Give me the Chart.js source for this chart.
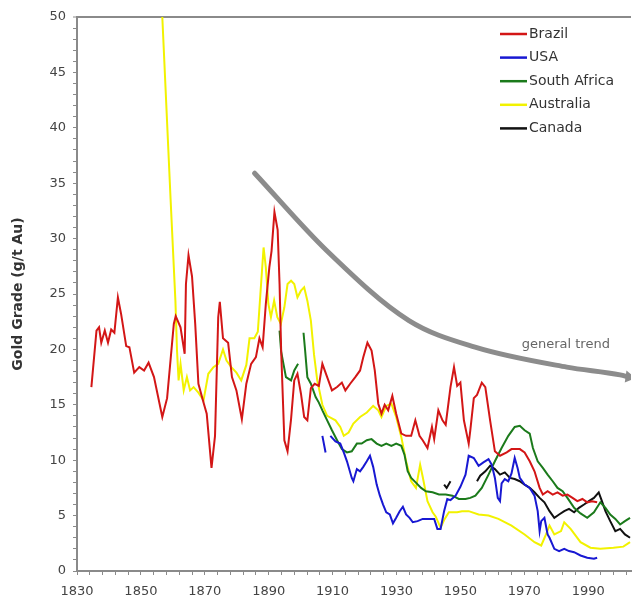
<!DOCTYPE html>
<html>
<head>
<meta charset="utf-8">
<title>Gold Grade</title>
<script src="https://cdn.jsdelivr.net/npm/chart.js@4.4.1/dist/chart.umd.min.js"></script>
<style>
  html, body { margin: 0; padding: 0; background: #fff; }
  canvas { display: block; }
</style>
</head>
<body>
<canvas id="chartGold" width="638" height="603"></canvas>
<script>
/* =============================
   DATA
============================= */

const brazilYear = [1834.5, 1836.1, 1836.9, 1837.6, 1838.7, 1839.7, 1840.7, 1841.7, 1842.8, 1843.8,
    1845.4, 1846.4, 1847.9, 1849.5, 1851.0, 1852.4, 1854.1, 1856.7, 1858.2, 1860.3,
    1860.9, 1862.4, 1863.7, 1864.1, 1864.9, 1866.0, 1867.0, 1868.0, 1869.6, 1870.6,
    1872.1, 1873.2, 1874.2, 1874.7, 1875.7, 1877.3, 1878.5, 1879.9, 1881.6, 1883.0,
    1884.5, 1886.0, 1887.1, 1888.1, 1889.1, 1890.2, 1890.9, 1891.8, 1892.8, 1893.4,
    1893.9, 1894.9, 1895.9, 1897.0, 1898.0, 1899.0, 1900.1, 1901.1, 1902.1, 1903.2,
    1904.4, 1905.7, 1906.8, 1908.3, 1909.8, 1911.4, 1912.9, 1914.0, 1915.5, 1917.1,
    1918.6, 1919.6, 1920.9, 1922.2, 1923.2, 1924.3, 1925.3, 1926.3, 1927.4, 1928.7,
    1929.9, 1931.5, 1933.0, 1934.6, 1935.9, 1937.2, 1938.2, 1939.7, 1941.1, 1941.8,
    1943.1, 1944.4, 1945.4, 1946.9, 1948.0, 1949.0, 1950.0, 1951.1, 1952.6, 1953.1,
    1954.2, 1955.2, 1956.7, 1957.8, 1959.3, 1960.8, 1962.4, 1964.5, 1966.0, 1968.6,
    1970.1, 1971.7, 1973.2, 1974.8, 1975.8, 1977.3, 1978.9, 1980.4, 1982.0, 1983.5,
    1985.1, 1986.6, 1988.2, 1989.7, 1991.2, 1992.8];
const brazilGrade = [16.6, 21.7, 22.0, 20.6, 21.7, 20.6, 21.8, 21.5, 24.7, 23.2,
    20.3, 20.2, 17.9, 18.4, 18.1, 18.8, 17.5, 13.9, 15.6, 22.3,
    23.0, 22.0, 19.6, 25.9, 28.5, 26.6, 22.3, 16.9, 15.2, 14.2,
    9.3, 12.2, 22.9, 24.3, 21.0, 20.6, 17.5, 16.3, 13.7, 16.9,
    18.7, 19.3, 21.0, 20.2, 24.1, 27.4, 28.9, 32.4, 30.8, 25.9,
    19.9, 11.8, 10.8, 13.7, 17.2, 17.8, 16.0, 13.9, 13.6, 16.5,
    16.9, 16.7, 18.7, 17.5, 16.3, 16.6, 17.0, 16.3, 16.9, 17.5,
    18.1, 19.3, 20.6, 19.9, 18.1, 15.1, 14.2, 15.0, 14.5, 15.8,
    14.2, 12.4, 12.2, 12.2, 13.6, 12.2, 11.8, 11.1, 13.0, 11.9,
    14.5, 13.6, 13.2, 16.6, 18.4, 16.7, 17.0, 13.6, 11.5, 12.7,
    15.6, 15.9, 17.0, 16.6, 13.6, 10.8, 10.4, 10.7, 11.0, 11.0,
    10.7, 9.9, 9.0, 7.5, 6.9, 7.2, 6.9, 7.1, 6.8, 6.9,
    6.6, 6.3, 6.5, 6.2, 6.3, 6.2];

const usaYear = [1906.8, 1907.8, 1908.5, 1909.3, 1910.9, 1912.4, 1913.5, 1914.5, 1916.0, 1916.5,
    1917.6, 1918.6, 1919.6, 1920.7, 1921.7, 1922.7, 1923.8, 1924.8, 1925.8, 1926.8,
    1927.9, 1928.9, 1929.9, 1931.0, 1932.0, 1933.0, 1934.1, 1935.1, 1936.6, 1938.2,
    1940.2, 1941.8, 1942.8, 1943.8, 1944.9, 1945.9, 1946.9, 1948.5, 1950.0, 1951.6,
    1952.6, 1954.2, 1955.7, 1957.2, 1958.8, 1959.8, 1960.8, 1961.7, 1962.4, 1962.9,
    1963.9, 1965.0, 1966.0, 1967.0, 1967.9, 1968.6, 1970.1, 1971.7, 1973.2, 1974.2,
    1974.8, 1975.3, 1976.3, 1977.3, 1977.9, 1979.4, 1980.9, 1982.5, 1984.0, 1985.6,
    1987.6, 1989.7, 1991.8, 1992.8];
const usaGrade = [12.2, 10.7, null, 12.2, 11.7, 11.5, 10.7, 9.9, 8.4, 8.1,
    9.2, 9.0, 9.4, 9.9, 10.4, 9.4, 7.8, 6.8, 6.0, 5.3,
    5.1, 4.3, 4.8, 5.4, 5.8, 5.1, 4.8, 4.4, 4.5, 4.7,
    4.7, 4.7, 3.8, 3.8, 5.4, 6.5, 6.4, 6.8, 7.6, 8.7,
    10.4, 10.2, 9.5, 9.8, 10.1, 9.6, 8.4, 6.6, 6.3, 7.9,
    8.3, 8.1, 8.8, 10.2, 9.3, 8.4, 7.8, 7.5, 6.8, 5.4,
    3.6, 4.5, 4.8, 3.3, 3.0, 2.0, 1.8, 2.0, 1.8, 1.7,
    1.4, 1.2, 1.1, 1.2];

const safricaYear = [1893.4, 1893.9, 1895.4, 1897.0, 1898.0, 1899.2, 1900.0, 1900.9, 1901.4, 1902.1,
    1903.2, 1904.7, 1905.7, 1906.8, 1908.3, 1909.8, 1911.4, 1912.9, 1914.5, 1916.0,
    1917.6, 1919.1, 1920.7, 1922.2, 1923.8, 1925.3, 1926.8, 1928.4, 1929.9, 1931.5,
    1932.5, 1933.5, 1934.6, 1936.0, 1937.7, 1939.2, 1941.3, 1943.3, 1945.4, 1947.5,
    1949.5, 1951.6, 1953.1, 1954.7, 1956.7, 1958.8, 1960.8, 1962.9, 1965.0, 1967.0,
    1968.6, 1970.1, 1971.7, 1972.7, 1974.2, 1975.8, 1977.3, 1978.9, 1980.4, 1982.0,
    1983.5, 1985.6, 1987.6, 1989.7, 1991.8, 1993.8, 1995.4, 1996.9, 1998.5, 2000.0,
    2001.5, 2003.1];
const safricaGrade = [21.7, 19.8, 17.5, 17.2, 18.1, 18.7, null, 21.5, 19.9, 17.5,
    16.9, 15.7, 15.2, 14.5, 13.6, 12.7, 11.8, 11.0, 10.7, 10.8,
    11.5, 11.5, 11.8, 11.9, 11.5, 11.3, 11.5, 11.3, 11.5, 11.3,
    10.5, 9.0, 8.4, 8.0, 7.5, 7.2, 7.1, 6.9, 6.9, 6.8,
    6.5, 6.5, 6.6, 6.8, 7.5, 8.7, 9.9, 11.1, 12.2, 13.0,
    13.1, 12.7, 12.4, 11.1, 9.9, 9.3, 8.7, 8.1, 7.5, 7.2,
    6.6, 5.7, 5.2, 4.8, 5.3, 6.2, 5.7, 5.1, 4.7, 4.2,
    4.5, 4.8];

const australiaYear = [1856.3, 1856.7, 1859.3, 1860.8, 1861.3, 1861.8, 1862.4, 1863.4, 1864.4, 1865.4,
    1866.5, 1868.0, 1869.6, 1871.1, 1872.7, 1874.2, 1875.7, 1876.8, 1878.3, 1879.9,
    1881.4, 1883.0, 1884.0, 1885.5, 1886.6, 1887.4, 1888.4, 1889.1, 1889.9, 1890.7,
    1891.7, 1892.7, 1893.8, 1894.9, 1895.9, 1897.0, 1898.0, 1899.0, 1900.1, 1901.1,
    1902.1, 1903.2, 1904.2, 1905.2, 1906.8, 1908.3, 1910.9, 1912.4, 1913.5, 1915.0,
    1916.5, 1918.6, 1920.7, 1922.7, 1924.3, 1925.3, 1926.8, 1928.4, 1929.9, 1931.5,
    1933.0, 1934.6, 1936.1, 1937.4, 1938.2, 1939.7, 1941.3, 1942.3, 1943.8, 1944.9,
    1946.4, 1949.0, 1950.5, 1952.6, 1955.7, 1958.8, 1961.9, 1966.0, 1970.1, 1973.2,
    1975.3, 1976.8, 1977.9, 1979.4, 1981.5, 1982.5, 1984.5, 1987.6, 1990.7, 1993.8,
    1997.9, 2001.0, 2003.1];
const australiaGrade = [53.0, 50.0, 33.5, 24.4, 19.9, 17.2, 18.7, 16.3, 17.5, 16.3,
    16.6, 16.1, 15.4, 17.8, 18.4, 18.7, 20.0, 19.0, 18.4, 17.9,
    17.2, 18.6, 21.0, 21.0, 21.6, 25.0, 29.2, 27.4, 24.1, 22.9,
    24.4, 22.9, 22.3, 23.8, 25.9, 26.2, 25.9, 24.7, 25.3, 25.6,
    24.4, 22.6, 19.5, 17.2, 15.0, 14.0, 13.6, 13.0, 12.2, 12.5,
    13.3, 13.9, 14.3, 14.9, 14.5, 13.9, 14.9, 15.1, 13.9, 12.1,
    9.9, 8.1, 7.5, 9.6, 8.5, 6.3, 5.3, 4.9, 3.9, 4.6,
    5.3, 5.3, 5.4, 5.4, 5.1, 5.0, 4.7, 4.1, 3.3, 2.6,
    2.3, 3.3, 4.1, 3.3, 3.6, 4.4, 3.8, 2.6, 2.1, 2.0,
    2.1, 2.2, 2.6];

const canadaYear = [1944.9, 1945.7, 1946.9, 1950.0, 1955.2, 1956.2, 1957.8, 1959.3, 1960.8, 1962.4,
    1963.9, 1965.5, 1967.0, 1968.6, 1970.1, 1971.7, 1973.2, 1974.8, 1976.3, 1977.9,
    1979.4, 1980.9, 1982.5, 1984.0, 1985.6, 1987.1, 1988.7, 1990.2, 1991.8, 1993.3,
    1994.3, 1995.4, 1996.9, 1998.5, 2000.0, 2001.5, 2003.1];
const canadaGrade = [7.8, 7.5, 8.1, null, 8.1, 8.6, 9.0, 9.5, 9.2, 8.7,
    8.9, 8.4, 8.3, 8.1, 7.8, 7.5, 7.1, 6.6, 6.2, 5.4,
    4.8, 5.1, 5.4, 5.6, 5.3, 5.7, 6.0, 6.3, 6.6, 7.1,
    6.3, 5.4, 4.5, 3.6, 3.8, 3.3, 3.0];

// "general trend" arrow
const trendYear = [1885.6, 1908.2, 1933.9, 1954.6, 1983.3, 2000.0, 2002.8];
const trendGrade = [35.9, 28.9, 22.6, 20.2, 18.4, 17.7, 17.5];
const trendText = "general trend";
const trendTextAt = [1983.0, 20.4];

// axis ticks
const xLabelYears = [1830, 1850, 1870, 1890, 1910, 1930, 1950, 1970, 1990];
const xTickStep = 4;
const yLabelValues = [0, 5, 10, 15, 20, 25, 30, 35, 40, 45, 50];

const legendOrder = ["Brazil", "USA", "South Africa", "Australia", "Canada"];

/* =============================
   HELPERS
============================= */

function toPoints(xs, ys) {
    return xs.map((x, i) => ({ x: x, y: ys[i] }));
}

function seriesLine(label, xs, ys, color) {
    return {
        label: label,
        data: toPoints(xs, ys),
        borderColor: color,
        backgroundColor: color,
        borderWidth: 2,
        pointRadius: 0,
        tension: 0,
        spanGaps: false
    };
}

const xTicks = [];
for (let v = 1830; v <= 2003; v += xTickStep) xTicks.push(v);

/* =============================
   LEGEND + TREND TEXT
============================= */

const cornerLegend = {
    id: "cornerLegend",
    afterDraw(chart) {
        const ctx = chart.ctx;
        ctx.save();
        ctx.font = "14px 'DejaVu Sans', sans-serif";
        ctx.textBaseline = "middle";
        ctx.textAlign = "left";
        legendOrder.forEach((name, i) => {
            const ds = chart.data.datasets.find(d => d.label === name);
            const y = 34 + i * 23.6;
            ctx.strokeStyle = ds.borderColor;
            ctx.lineWidth = 2.5;
            ctx.beginPath();
            ctx.moveTo(500, y);
            ctx.lineTo(527, y);
            ctx.stroke();
            ctx.fillStyle = "#333";
            ctx.fillText(name, 529, y);
        });

        const xs = chart.scales.x, ys = chart.scales.y;
        ctx.font = "13px 'DejaVu Sans', sans-serif";
        ctx.fillStyle = "#666";
        ctx.textAlign = "center";
        ctx.fillText(trendText, xs.getPixelForValue(trendTextAt[0]), ys.getPixelForValue(trendTextAt[1]));
        ctx.restore();
    }
};

/* =============================
   CHART
============================= */

Chart.defaults.font.family = "'DejaVu Sans', sans-serif";

const trendRadius = trendYear.map((_, i) => i === trendYear.length - 1 ? 7 : 0);

new Chart(document.getElementById("chartGold"), {
    type: "line",
    data: {
        datasets: [
            seriesLine("Brazil", brazilYear, brazilGrade, "#d31616"),
            seriesLine("USA", usaYear, usaGrade, "#1818d2"),
            seriesLine("South Africa", safricaYear, safricaGrade, "#1b7a1b"),
            seriesLine("Canada", canadaYear, canadaGrade, "#111111"),
            seriesLine("Australia", australiaYear, australiaGrade, "#f2f200"),
            {
                label: "",
                data: toPoints(trendYear, trendGrade),
                borderColor: "#8c8c8c",
                backgroundColor: "#8c8c8c",
                borderWidth: 5,
                borderCapStyle: "round",
                cubicInterpolationMode: "monotone",
                pointRadius: trendRadius,
                pointStyle: "triangle",
                pointRotation: 98,
                pointBorderWidth: 0
            }
        ]
    },
    options: {
        responsive: false,
        animation: false,
        events: [],
        layout: { padding: { top: 17, left: 0, right: 0, bottom: 0 } },
        plugins: {
            legend: { display: false },
            tooltip: { enabled: false }
        },
        scales: {
            x: {
                type: "linear",
                min: 1830,
                max: 2003.4,
                afterFit: s => { s.height = 32; },
                afterBuildTicks: s => { s.ticks = xTicks.map(v => ({ value: v })); },
                ticks: {
                    autoSkip: false,
                    maxRotation: 0,
                    padding: 9,
                    color: "#444",
                    font: { size: 13 },
                    callback: v => xLabelYears.includes(v) ? String(v) : ""
                },
                grid: { drawOnChartArea: false, tickLength: 4, color: "#8a8a8a" },
                border: { color: "#8a8a8a", width: 2 }
            },
            y: {
                min: 0,
                max: 50,
                afterFit: s => { s.width = 77; },
                ticks: {
                    stepSize: 1,
                    autoSkip: false,
                    padding: 7,
                    color: "#444",
                    font: { size: 13 },
                    callback: v => yLabelValues.includes(v) ? String(v) : ""
                },
                grid: {
                    color: c => (c.tick && c.tick.value === 50) ? "#8a8a8a" : "rgba(0,0,0,0)",
                    lineWidth: c => (c.tick && c.tick.value === 50) ? 2 : 1,
                    tickLength: 4,
                    tickColor: "#8a8a8a",
                    tickWidth: 1
                },
                border: { color: "#8a8a8a", width: 2 },
                title: {
                    display: true,
                    text: "Gold Grade (g/t Au)",
                    color: "#333",
                    font: { size: 14, weight: "bold" },
                    padding: { top: 10, bottom: 0 }
                }
            }
        }
    },
    plugins: [cornerLegend]
});
</script>
</body>
</html>
